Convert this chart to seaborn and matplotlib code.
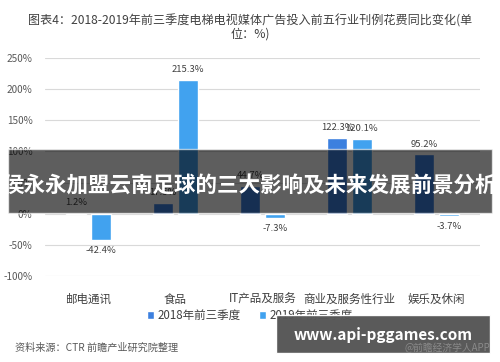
import pandas as pd
import seaborn as sns
import matplotlib.pyplot as plt
from matplotlib.patches import Rectangle

# Data
categories = ['邮电通讯', '食品', 'IT产品及服务', '商业及服务性行业', '娱乐及休闲']
series_names = ['2018年前三季度', '2019年前三季度']
values_2018 = [1.2, 17.5, 44.7, 122.3, 95.2]
values_2019 = [-42.4, 215.3, -7.3, 120.1, -3.7]
y_ticks = [-100, -50, 0, 50, 100, 150, 200, 250]

df = pd.DataFrame({
    '行业': categories * 2,
    '年份': [series_names[0]] * 5 + [series_names[1]] * 5,
    '变化': values_2018 + values_2019,
})

sns.set_style('white')
plt.rcParams['font.family'] = ['Noto Sans CJK SC', 'DejaVu Sans']

fig = plt.figure(figsize=(5, 3.62), dpi=100)
ax = fig.add_axes([0.09, 0.2376, 0.87, 0.6022])

colors = ['#3c80df', '#41a2ef']
sns.barplot(data=df, x='行业', y='变化', hue='年份', order=categories,
            hue_order=series_names, palette=colors, saturation=1,
            width=0.57, gap=0.18, ax=ax, zorder=3)

for cont in ax.containers:
    labels = [f'{v:.1f}%' for v in cont.datavalues]
    ax.bar_label(cont, labels=labels, padding=4, fontsize=6.8, color='#404040')

ax.set_ylim(-100, 250)
ax.set_xlim(-0.5, 4.5)
ax.set_yticks(y_ticks)
ax.set_yticklabels([f'{t}%' for t in y_ticks], fontsize=7.2, color='#595959')
ax.tick_params(axis='x', labelsize=8.3, labelcolor='#404040', length=0, pad=12)
ax.tick_params(axis='y', length=0, pad=9)
ax.yaxis.grid(True, color='#d9d9d9', linewidth=0.8, zorder=0)
ax.set_xlabel('')
ax.set_ylabel('')
sns.despine(ax=ax, left=True, bottom=True)

handles, labs = ax.get_legend_handles_labels()
ax.legend(handles, labs, loc='center', bbox_to_anchor=(0.5, 0.128),
          bbox_transform=fig.transFigure, ncol=2, frameon=False,
          fontsize=8.3, handlelength=0.6, handleheight=0.6,
          handletextpad=0.3, columnspacing=1.6, labelcolor='#404040')

fig.text(0.5, 0.96, '图表4：2018-2019年前三季度电梯电视媒体广告投入前五行业刊例花费同比变化(单\n位：%)',
         ha='center', va='top', fontsize=8.7, color='#404040', linespacing=1.0)

fig.text(0.03, 0.04, '资料来源：CTR 前瞻产业研究院整理', ha='left', va='center',
         fontsize=7.3, color='#595959', style='italic')

# overlay banner across the chart
fig.patches.append(Rectangle((0.016, 0.4116), 0.968, 0.1768, transform=fig.transFigure,
                             facecolor='black', alpha=0.63, zorder=10))
fig.text(0.5, 0.486, '侯永永加盟云南足球的三大影响及未来发展前景分析', ha='center', va='center',
         fontsize=15.5, color='white', fontweight='bold', zorder=11)

# url box bottom right
fig.patches.append(Rectangle((0.552, 0.025), 0.428, 0.105, transform=fig.transFigure,
                             facecolor='#555555', alpha=0.97, zorder=10))
fig.text(0.766, 0.075, 'www.api-pggames.com', ha='center', va='center',
         fontsize=11, color='white', fontweight='bold', zorder=11)
fig.text(0.98, 0.04, '@前瞻经济学人APP', ha='right', va='center',
         fontsize=7, color='#8a8a8a', zorder=12)

fig.savefig('out.png', dpi=100)
